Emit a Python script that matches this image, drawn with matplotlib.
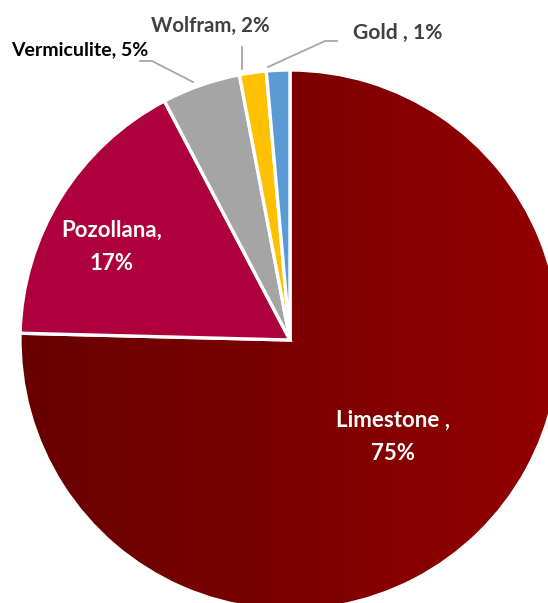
"""Mineral production share pie, redrawn from the reference screenshot."""

import matplotlib

matplotlib.use("Agg")
import matplotlib.pyplot as plt
import numpy as np
from matplotlib.colors import LinearSegmentedColormap

W, H = 548, 603

names = ["Limestone ", "Pozollana", "Vermiculite", "Wolfram", "Gold "]
shares = [75.4, 16.9, 4.7, 1.6, 1.4]
colors = ["#800000", "#AD003C", "#A5A5A5", "#FFC000", "#5B9BD5"]

plt.rcParams["font.family"] = ["Lato", "DejaVu Sans"]

fig = plt.figure(figsize=(W / 100, H / 100), dpi=100)
ax = fig.add_axes([0, 0, 1, 1])

cx, cy, r = 290, H - 340, 270
wedges, _ = ax.pie(
    shares,
    colors=colors,
    startangle=90,
    counterclock=False,
    center=(cx, cy),
    radius=r,
    frame=True,
    wedgeprops=dict(edgecolor="white", linewidth=2.4),
)
ax.set_xlim(0, W)
ax.set_ylim(0, H)
ax.set_aspect("equal")
ax.axis("off")

# limestone has a dark-to-bright gradient, left to right
grad = LinearSegmentedColormap.from_list("lime", ["#680000", "#7c0000", "#940000"])
img = np.tile(np.linspace(0, 1, 256), (256, 1))
im = ax.imshow(
    img,
    cmap=grad,
    extent=(cx - r, cx + r, cy - r, cy + r),
    origin="lower",
    zorder=0.5,
    aspect="auto",
)
im.set_clip_path(wedges[0])
wedges[0].set_facecolor("none")
for w in wedges:
    w.set_zorder(2)


def pct(v):
    return f"{round(v)}%"


# inside labels
ax.text(393, H - 437, f"{names[0]},\n{pct(shares[0])}", color="white", fontsize=16,
        fontweight="bold", ha="center", va="center", linespacing=1.72, zorder=3)
ax.text(112, H - 247, f"{names[1]},\n{pct(shares[1])}", color="white", fontsize=16,
        fontweight="bold", ha="center", va="center", linespacing=1.72, zorder=3)

# outside labels with leader lines
lead = "#A6A6A6"
ax.text(80, H - 50, f"{names[2]}, {pct(shares[2])}", color="black", fontsize=14,
        fontweight="bold", ha="center", va="center", zorder=3)
ax.plot([140, 152, 193], [H - 61, H - 61, H - 82], color=lead, lw=1.3, zorder=1)

ax.text(210, H - 26, f"{names[3]}, {pct(shares[3])}", color="#404040", fontsize=14.7,
        fontweight="bold", ha="center", va="center", zorder=3)
ax.plot([242, 242], [H - 47, H - 69], color=lead, lw=1.3, zorder=1)

ax.text(398, H - 33, f"{names[4]}, {pct(shares[4])}", color="#404040", fontsize=15.2,
        fontweight="bold", ha="center", va="center", zorder=3)
ax.plot([337, 325, 268], [H - 41, H - 41, H - 67], color=lead, lw=1.3, zorder=1)

fig.savefig("out.png", dpi=100, facecolor="white")
